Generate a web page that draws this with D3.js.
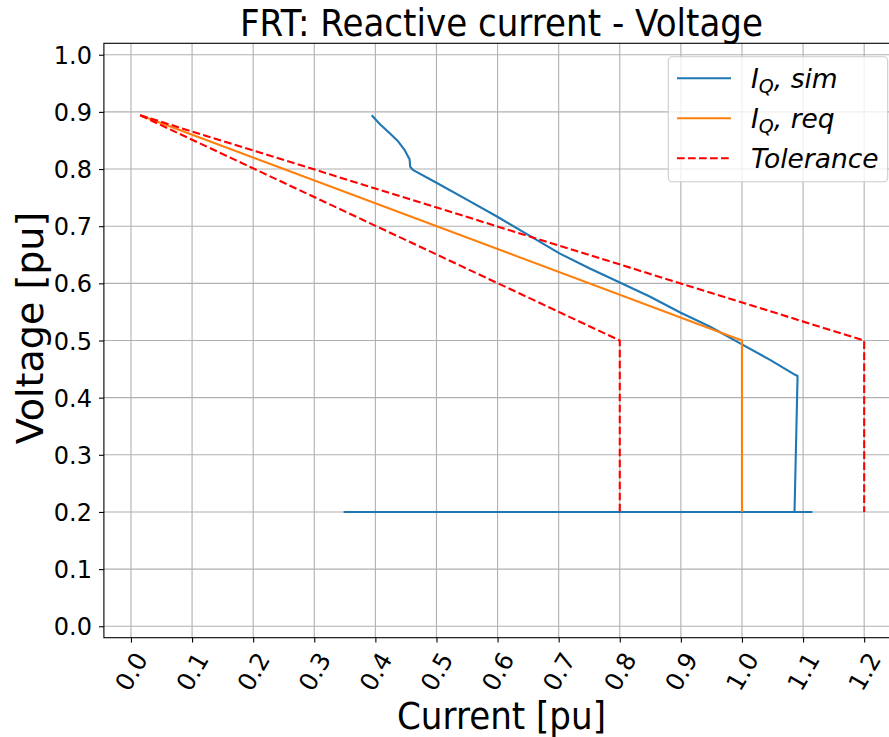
<!DOCTYPE html>
<html>
<head>
<meta charset="utf-8">
<script src="https://cdn.jsdelivr.net/npm/d3@7"></script>
<style>
  html, body { margin: 0; padding: 0; background: #ffffff; }
  svg { display: block; }
  text { font-family: "DejaVu Sans", sans-serif; fill: #000; }
</style>
</head>
<body>
<div id="chart"></div>
<script>
// Simulated reactive current vs. voltage trajectory (current, voltage)
const simCurrent = [0.348, 1.114, 1.086, 1.091, 1.087, 1.046, 0.997, 0.948, 0.899, 0.849, 0.801, 0.751,
                    0.702, 0.648, 0.599, 0.549, 0.500, 0.462, 0.457, 0.456, 0.448, 0.4375, 0.424, 0.408, 0.394];
const simVoltage = [0.200, 0.200, 0.200, 0.438, 0.440, 0.466, 0.495, 0.524, 0.549, 0.577, 0.601, 0.626,
                    0.652, 0.686, 0.717, 0.747, 0.776, 0.798, 0.804, 0.817, 0.833, 0.848, 0.862, 0.878, 0.894];

// Required reactive current characteristic
const reqCurrent = [0.015, 1.0, 1.0];
const reqVoltage = [0.894, 0.5, 0.2];

// Tolerance band (upper and lower limit)
const tolUpperCurrent = [0.015, 1.2, 1.2];
const tolUpperVoltage = [0.894, 0.5, 0.2];
const tolLowerCurrent = [0.015, 0.8, 0.8];
const tolLowerVoltage = [0.894, 0.5, 0.2];

const xTicks = [0.0, 0.1, 0.2, 0.3, 0.4, 0.5, 0.6, 0.7, 0.8, 0.9, 1.0, 1.1, 1.2];
const yTicks = [0.0, 0.1, 0.2, 0.3, 0.4, 0.5, 0.6, 0.7, 0.8, 0.9, 1.0];

const W = 889, H = 737;
const plot = { left: 103.9, right: 900.4, top: 43.3, bottom: 637.7 };

const svg = d3.select("#chart").append("svg")
  .attr("width", W).attr("height", H);

const x = d3.scaleLinear().domain([-0.0443, 1.2593]).range([plot.left, plot.right]);
const y = d3.scaleLinear().domain([-0.02, 1.02]).range([plot.bottom, plot.top]);

svg.append("clipPath").attr("id", "plotclip")
  .append("rect").attr("x", plot.left).attr("y", plot.top)
  .attr("width", plot.right - plot.left).attr("height", plot.bottom - plot.top);

// Grid
const grid = svg.append("g");
grid.selectAll("line.gx").data(xTicks).join("line")
  .attr("x1", d => x(d)).attr("x2", d => x(d))
  .attr("y1", plot.top).attr("y2", plot.bottom)
  .attr("stroke", "#b0b0b0").attr("stroke-width", 1.1);
grid.selectAll("line.gy").data(yTicks).join("line")
  .attr("y1", d => y(d)).attr("y2", d => y(d))
  .attr("x1", plot.left).attr("x2", plot.right)
  .attr("stroke", "#b0b0b0").attr("stroke-width", 1.1);

// Data lines
const line = d3.line().x(d => x(d[0])).y(d => y(d[1]));
const zipPts = (a, b) => a.map((v, i) => [v, b[i]]);
const marks = svg.append("g").attr("clip-path", "url(#plotclip)");

const series = [
  { pts: zipPts(simCurrent, simVoltage), color: "#1f77b4", dash: null },
  { pts: zipPts(reqCurrent, reqVoltage), color: "#ff7f0e", dash: null },
  { pts: zipPts(tolUpperCurrent, tolUpperVoltage), color: "#ff0000", dash: "7.7,3.3" },
  { pts: zipPts(tolLowerCurrent, tolLowerVoltage), color: "#ff0000", dash: "7.7,3.3" }
];
series.forEach(s => {
  marks.append("path").attr("d", line(s.pts))
    .attr("fill", "none").attr("stroke", s.color).attr("stroke-width", 2.1)
    .attr("stroke-linejoin", "round")
    .attr("stroke-dasharray", s.dash);
});

// Axes
const xAxis = d3.axisBottom(x).tickValues(xTicks).tickSize(4.9).tickFormat(d3.format(".1f"));
const yAxis = d3.axisLeft(y).tickValues(yTicks).tickSize(4.9).tickFormat(d3.format(".1f"));

const gx = svg.append("g").attr("transform", `translate(0,${plot.bottom})`).call(xAxis);
gx.select(".domain").remove();
gx.selectAll(".tick line").attr("stroke", "#000").attr("stroke-width", 1.1);
gx.selectAll(".tick text")
  .attr("font-size", 24.5).attr("font-family", "DejaVu Sans")
  .attr("text-anchor", "middle").attr("dominant-baseline", "central")
  .attr("y", null).attr("dy", null)
  .attr("transform", "translate(0,34) rotate(-60)");

const gy = svg.append("g").attr("transform", `translate(${plot.left},0)`).call(yAxis);
gy.select(".domain").remove();
gy.selectAll(".tick line").attr("stroke", "#000").attr("stroke-width", 1.1);
gy.selectAll(".tick text")
  .attr("font-size", 24).attr("font-family", "DejaVu Sans")
  .attr("x", -12).attr("dy", "0.36em");

// Spines (left, top, bottom; the right edge lies outside the canvas)
svg.append("rect")
  .attr("x", plot.left).attr("y", plot.top)
  .attr("width", plot.right - plot.left).attr("height", plot.bottom - plot.top)
  .attr("fill", "none").attr("stroke", "#000").attr("stroke-width", 1.1);

// Title and axis labels
svg.append("text").attr("x", 501.5).attr("y", 36)
  .attr("text-anchor", "middle").attr("font-size", 37)
  .attr("textLength", 523).attr("lengthAdjust", "spacingAndGlyphs")
  .text("FRT: Reactive current - Voltage");
svg.append("text").attr("x", 501.5).attr("y", 729)
  .attr("text-anchor", "middle").attr("font-size", 37)
  .attr("textLength", 209).attr("lengthAdjust", "spacingAndGlyphs")
  .text("Current [pu]");
svg.append("text")
  .attr("transform", "translate(43,328) rotate(-90)")
  .attr("text-anchor", "middle").attr("font-size", 38)
  .text("Voltage [pu]");

// Legend
const legendItems = [
  { label: ["I", "Q", ", sim"], color: "#1f77b4", dash: null },
  { label: ["I", "Q", ", req"], color: "#ff7f0e", dash: null },
  { label: ["Tolerance"], color: "#ff0000", dash: "7.7,3.3" }
];
const lg = svg.append("g");
lg.append("rect").attr("x", 668.3).attr("y", 56.7).attr("width", 219.4).attr("height", 125)
  .attr("rx", 4).attr("fill", "#ffffff").attr("fill-opacity", 0.8)
  .attr("stroke", "#cccccc").attr("stroke-width", 1.1);
legendItems.forEach((it, i) => {
  const cy = 78.3 + i * 40;
  lg.append("line").attr("x1", 677).attr("x2", 731).attr("y1", cy).attr("y2", cy)
    .attr("stroke", it.color).attr("stroke-width", 2.1).attr("stroke-dasharray", it.dash);
  const t = lg.append("text").attr("x", 751).attr("y", cy + 9.5)
    .attr("font-size", 26.5).attr("font-style", "italic");
  if (it.label.length === 3) {
    t.append("tspan").text(it.label[0]);
    t.append("tspan").attr("font-size", 19).attr("dy", 5).text(it.label[1]);
    t.append("tspan").attr("dy", -5).text(it.label[2]);
  } else {
    t.text(it.label[0]);
  }
});
</script>
</body>
</html>
